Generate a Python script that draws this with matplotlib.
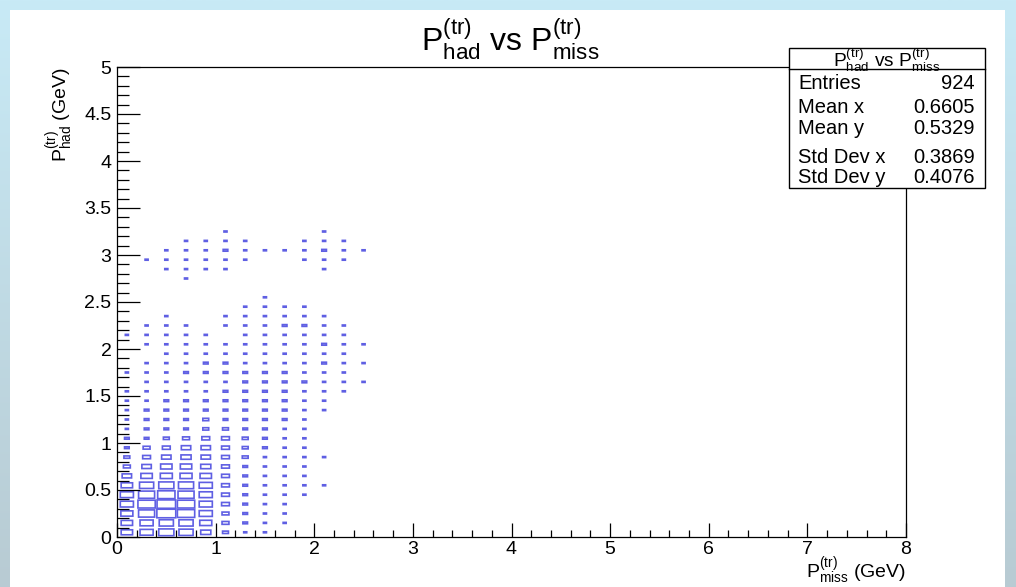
"""
P_had^(tr) vs P_miss^(tr) - ROOT style 2D box histogram.
"""
import matplotlib

matplotlib.use("Agg")
import matplotlib.pyplot as plt
import numpy as np
from matplotlib.patches import Rectangle

plt.rcParams["font.family"] = ["Liberation Sans", "DejaVu Sans"]
plt.rcParams["mathtext.fontset"] = "custom"
plt.rcParams["mathtext.rm"] = "Liberation Sans"
plt.rcParams["mathtext.it"] = "Liberation Sans:italic"
plt.rcParams["mathtext.bf"] = "Liberation Sans:bold"

# histogram binning: 40 bins in x (0..8), 50 bins in y (0..5)
x_range = (0.0, 8.0)
y_range = (0.0, 5.0)
x_bin_width = 0.2
y_bin_width = 0.1

# bin contents, one row per y bin (row 0 = 0.0-0.1), columns = first 13 x bins
counts = [
    [10, 13, 17, 15, 8, 3, 1, 1, 0, 0, 0, 0, 0],
    [10, 13, 15, 15, 11, 4, 2, 1, 1, 0, 0, 0, 0],
    [11, 19, 26, 22, 13, 4, 2, 1, 1, 0, 0, 0, 0],
    [13, 22, 25, 22, 13, 5, 2, 1, 1, 0, 0, 0, 0],
    [13, 19, 22, 19, 13, 5, 2, 1, 1, 1, 0, 0, 0],
    [10, 15, 17, 17, 13, 5, 2, 1, 1, 1, 1, 0, 0],
    [7, 10, 11, 11, 10, 5, 2, 1, 1, 1, 0, 0, 0],
    [4, 7, 10, 10, 8, 5, 2, 1, 1, 1, 0, 0, 0],
    [3, 5, 7, 8, 7, 5, 3, 1, 1, 1, 1, 0, 0],
    [2, 4, 5, 7, 7, 5, 3, 2, 1, 1, 0, 0, 0],
    [2, 2, 3, 4, 5, 5, 3, 2, 1, 1, 0, 0, 0],
    [1, 2, 2, 2, 3, 3, 2, 2, 1, 1, 0, 0, 0],
    [1, 2, 2, 2, 3, 2, 2, 2, 2, 1, 0, 0, 0],
    [1, 2, 2, 2, 2, 2, 2, 2, 2, 1, 1, 0, 0],
    [1, 1, 2, 2, 2, 2, 2, 2, 2, 1, 1, 0, 0],
    [1, 1, 1, 1, 1, 2, 2, 2, 2, 1, 1, 1, 0],
    [0, 1, 1, 1, 1, 1, 2, 2, 2, 2, 1, 1, 1],
    [1, 1, 1, 2, 2, 2, 2, 2, 2, 1, 1, 1, 0],
    [0, 1, 1, 1, 2, 2, 1, 1, 1, 1, 2, 1, 1],
    [0, 0, 1, 1, 1, 1, 1, 1, 1, 1, 1, 1, 0],
    [0, 1, 1, 1, 1, 1, 1, 1, 1, 1, 2, 1, 1],
    [1, 1, 1, 1, 1, 0, 1, 1, 1, 1, 1, 1, 0],
    [0, 1, 1, 1, 0, 1, 1, 1, 2, 2, 1, 1, 0],
    [0, 0, 1, 0, 0, 1, 1, 1, 1, 1, 1, 0, 0],
    [0, 0, 0, 0, 0, 0, 1, 1, 1, 1, 0, 0, 0],
    [0, 0, 0, 0, 0, 0, 0, 1, 0, 0, 0, 0, 0],
    [0, 0, 0, 0, 0, 0, 0, 0, 0, 0, 0, 0, 0],
    [0, 0, 0, 1, 0, 0, 0, 0, 0, 0, 0, 0, 0],
    [0, 0, 1, 1, 1, 1, 0, 0, 0, 0, 1, 0, 0],
    [0, 1, 1, 1, 1, 1, 1, 0, 0, 1, 1, 1, 0],
    [0, 0, 1, 1, 1, 2, 1, 1, 1, 1, 2, 1, 1],
    [0, 0, 0, 1, 1, 1, 1, 0, 0, 1, 1, 1, 0],
    [0, 0, 0, 0, 0, 1, 0, 0, 0, 0, 1, 0, 0],
]

x_ticks = [0, 1, 2, 3, 4, 5, 6, 7, 8]
y_ticks = [0, 0.5, 1, 1.5, 2, 2.5, 3, 3.5, 4, 4.5, 5]
y_tick_labels = ["0", "0.5", "1", "1.5", "2", "2.5", "3", "3.5", "4", "4.5", "5"]

stats_names = ["Entries", "Mean x", "Mean y", "Std Dev x", "Std Dev y"]
stats_values = ["924", "0.6605", "0.5329", "0.3869", "0.4076"]

title = r"$\mathrm{P}_{\mathrm{had}}^{\mathrm{(tr)}}$ vs $\mathrm{P}_{\mathrm{miss}}^{\mathrm{(tr)}}$"
x_title = r"$\mathrm{P}_{\mathrm{miss}}^{\mathrm{(tr)}}$ (GeV)"
y_title = r"$\mathrm{P}_{\mathrm{had}}^{\mathrm{(tr)}}$ (GeV)"

W, H = 1016, 587
BOX_COLOR = "#5f5fe3"
BOX_LW = 1.2  # points


def fx(px):
    return px / W


def fy(py):
    return (H - py) / H


fig = plt.figure(figsize=(W / 100, H / 100), dpi=100)

# screenshot-like backdrop: light blue gradient around a white canvas
bg = fig.add_axes([0, 0, 1, 1], zorder=-10)
grad = np.linspace(0, 1, 256)[:, None]
bg_cmap = matplotlib.colors.LinearSegmentedColormap.from_list("bg", ["#c8eaf6", "#b8cbd3"])
bg.imshow(grad, aspect="auto", cmap=bg_cmap, extent=[0, 1, 0, 1])
bg.set_axis_off()
fig.patches.append(Rectangle((fx(10), 0), fx(1005) - fx(10), fy(10), transform=fig.transFigure,
                             facecolor="white", edgecolor="none", zorder=-5))

ax_px = (117, 537, 906, 67)  # left, bottom, right, top in pixels
ax = fig.add_axes([fx(ax_px[0]), fy(ax_px[1]), fx(ax_px[2]) - fx(ax_px[0]),
                   fy(ax_px[3]) - fy(ax_px[1])])
ax.set_xlim(*x_range)
ax.set_ylim(*y_range)

# half the stroke width in data units, so outlines don't inflate the boxes too much
half_px = 0.5 * BOX_LW * 100 / 72
sx = half_px * (x_range[1] - x_range[0]) / (ax_px[2] - ax_px[0])
sy = half_px * (y_range[1] - y_range[0]) / (ax_px[1] - ax_px[3])

# ROOT "BOX" option: box area proportional to bin content
cmax = max(max(row) for row in counts)
for j, row in enumerate(counts):
    for i, c in enumerate(row):
        if c <= 0:
            continue
        r = np.sqrt(c / cmax)
        xc = x_range[0] + (i + 0.5) * x_bin_width
        yc = y_range[0] + (j + 0.5) * y_bin_width
        w = max(x_bin_width * r - sx, 0.002)
        h = max(y_bin_width * r - sy, 0.001)
        ax.add_patch(Rectangle((xc - w / 2, yc - h / 2), w, h, facecolor="none",
                               edgecolor=BOX_COLOR, linewidth=BOX_LW, snap=False))

ax.set_xticks(x_ticks)
ax.set_xticks(np.arange(0, 8.01, 0.2), minor=True)
ax.set_yticks(y_ticks)
ax.set_yticklabels(y_tick_labels)
ax.set_yticks(np.arange(0, 5.01, 0.1), minor=True)
for s in ax.spines.values():
    s.set_linewidth(0.9)
ax.tick_params(axis="both", which="both", direction="in", top=False, right=False,
               width=0.9, labelsize=14)
ax.tick_params(axis="x", which="major", length=10, pad=3)
ax.tick_params(axis="x", which="minor", length=5)
ax.tick_params(axis="y", which="major", length=16.5, pad=4)
ax.tick_params(axis="y", which="minor", length=8.5)

fig.text(fx(510), fy(51), title, ha="center", va="baseline", fontsize=23)
fig.text(fx(906), fy(571), x_title, ha="right", va="center", fontsize=14)
fig.text(fx(60), fy(67), y_title, ha="center", va="top", rotation=90, fontsize=14)

# stats box
fig.patches.append(Rectangle((fx(789), fy(188)), fx(985) - fx(789), fy(48) - fy(188),
                             transform=fig.transFigure, facecolor="white",
                             edgecolor="black", linewidth=1.0, zorder=5))
fig.add_artist(plt.Line2D([fx(789), fx(985)], [fy(69), fy(69)], transform=fig.transFigure,
                          color="black", linewidth=1.0, zorder=6))
fig.text(fx(887), fy(67), title, ha="center", va="baseline", fontsize=13.8, zorder=7)
baselines = [89, 112.7, 134.3, 163.3, 183.3]
for name, val, yb in zip(stats_names, stats_values, baselines):
    fig.text(fx(798), fy(yb), name, ha="left", va="baseline", fontsize=14.5, zorder=7)
    fig.text(fx(975), fy(yb), val, ha="right", va="baseline", fontsize=14.5, zorder=7)

fig.savefig("out.png", dpi=100)
